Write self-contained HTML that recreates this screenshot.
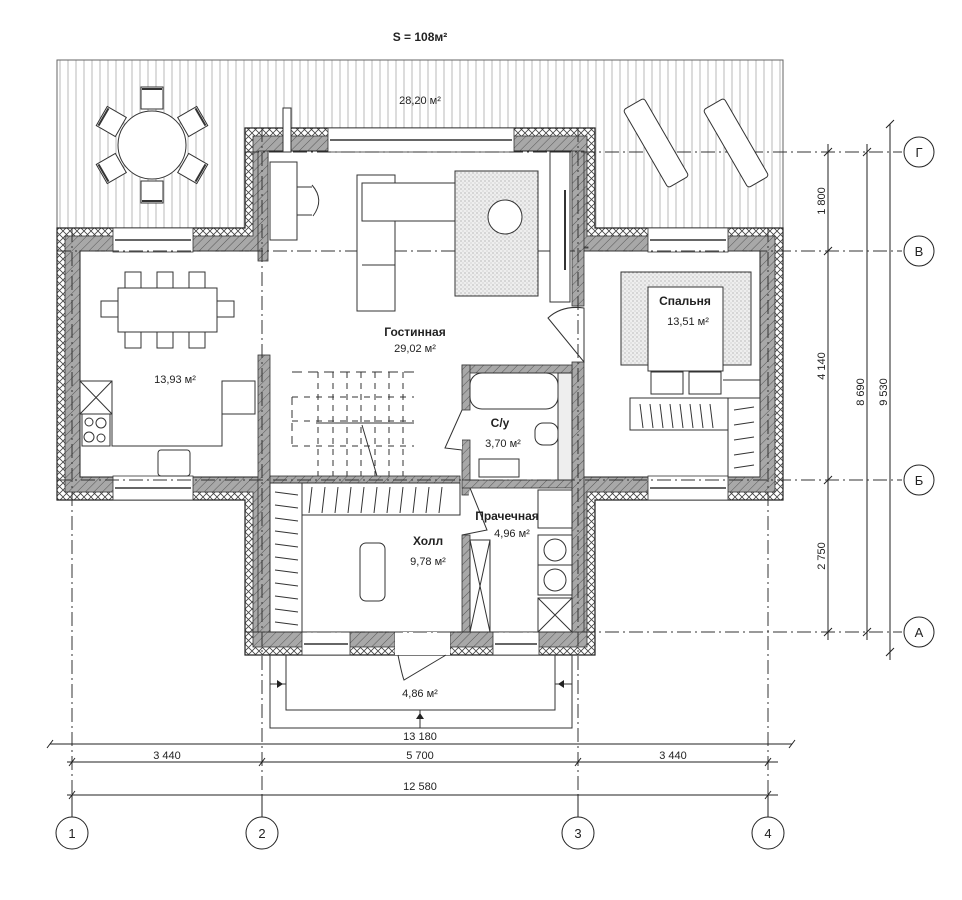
<!DOCTYPE html>
<html><head><meta charset="utf-8"><style>
html,body{margin:0;padding:0;background:#fff}
svg{display:block}
text{font-family:"Liberation Sans",sans-serif;fill:#222}
</style></head><body>
<svg width="962" height="900" viewBox="0 0 962 900" xmlns="http://www.w3.org/2000/svg">
<defs>
<pattern id="stripe" width="8" height="10" patternUnits="userSpaceOnUse"><rect width="8" height="10" fill="#fff"/><line x1="4" y1="0" x2="4" y2="10" stroke="#b8b8b8" stroke-width="1"/></pattern>
<pattern id="hatch" width="6" height="6" patternUnits="userSpaceOnUse" patternTransform="rotate(45)"><rect width="6" height="6" fill="#a8a8a8"/><line x1="0" y1="0" x2="0" y2="6" stroke="#555" stroke-width="1"/></pattern>
<pattern id="cross" width="7" height="7" patternUnits="userSpaceOnUse"><rect width="7" height="7" fill="#fff"/><path d="M0 0L7 7M7 0L0 7" stroke="#444" stroke-width="0.8"/></pattern>
<pattern id="dots" width="4" height="4" patternUnits="userSpaceOnUse"><rect width="4" height="4" fill="#eee"/><circle cx="1" cy="1" r="0.6" fill="#999"/><circle cx="3" cy="3" r="0.5" fill="#aaa"/></pattern>
</defs>

<text x="420" y="41" font-size="12" font-weight="bold" text-anchor="middle">S = 108м²</text>

<!-- terrace -->
<rect x="57" y="60" width="726" height="168" fill="url(#stripe)" stroke="#666" stroke-width="1"/>
<text x="420" y="104" font-size="11" text-anchor="middle">28,20 м²</text>

<!-- outer wall: insulation layer -->
<path d="M245 128H595V228H783V500H595V655H245V500H57V228H245Z" fill="url(#cross)" stroke="#222" stroke-width="1.2"/>
<!-- gray masonry -->
<path d="M253 136H587V236H775V492H587V647H253V492H65V236H253Z" fill="url(#hatch)" stroke="#333" stroke-width="0.8"/>
<!-- interior -->
<path d="M268 151H572V251H760V477H572V632H268V477H80V251H268Z" fill="#fff" stroke="#222" stroke-width="1"/>

<!-- windows (white gaps) -->
<g fill="#fff" stroke="#333" stroke-width="0.8">
<rect x="328" y="128" width="186" height="24"/>
<rect x="113" y="228" width="80" height="24"/>
<rect x="648" y="228" width="80" height="24"/>
<rect x="113" y="476" width="80" height="24"/>
<rect x="648" y="476" width="80" height="24"/>
<rect x="302" y="632" width="48" height="23"/>
<rect x="395" y="632" width="55" height="23"/>
<rect x="493" y="632" width="46" height="23"/>
</g>
<g stroke="#333" stroke-width="1.5">
<line x1="330" y1="140" x2="512" y2="140"/><line x1="115" y1="240" x2="191" y2="240"/><line x1="650" y1="240" x2="726" y2="240"/>
<line x1="115" y1="488" x2="191" y2="488"/><line x1="650" y1="488" x2="726" y2="488"/><line x1="304" y1="644" x2="348" y2="644"/><line x1="495" y1="644" x2="537" y2="644"/>
</g>
<rect x="395" y="632" width="55" height="23" fill="#fff" stroke="none"/>
<path d="M398 655Q402 675 404 680L446 655" fill="none" stroke="#333" stroke-width="1"/>

<!-- chimney -->
<rect x="283" y="108" width="8" height="44" fill="#fff" stroke="#333"/>

<!-- interior partitions -->
<g fill="url(#hatch)" stroke="#333" stroke-width="0.8">
<rect x="258" y="151" width="10" height="110"/>
<rect x="258" y="355" width="12" height="277"/>
<rect x="572" y="151" width="12" height="155"/>
<rect x="572" y="362" width="12" height="270"/>
<rect x="584" y="247" width="4" height="1"/>
<rect x="462" y="365" width="110" height="8"/>
<rect x="462" y="365" width="8" height="45"/>
<rect x="462" y="440" width="8" height="55"/>
<rect x="462" y="480" width="110" height="8"/>
<rect x="462" y="535" width="8" height="97"/>
<rect x="270" y="476" width="190" height="7"/>
</g>

<!-- dash-dot axes -->
<g stroke="#333" stroke-width="1" stroke-dasharray="14,4,2,4" fill="none">
<line x1="72" y1="228" x2="72" y2="815"/>
<line x1="262" y1="128" x2="262" y2="815"/>
<line x1="578" y1="128" x2="578" y2="815"/>
<line x1="768" y1="228" x2="768" y2="815"/>
<line x1="245" y1="152" x2="902" y2="152"/>
<line x1="57" y1="251" x2="902" y2="251"/>
<line x1="57" y1="480" x2="902" y2="480"/>
<line x1="245" y1="632" x2="902" y2="632"/>
</g>

<!-- round table & chairs -->
<g fill="#fff" stroke="#333" stroke-width="1">
<g transform="translate(152,145)">
<g id="ch"><rect x="-11" y="-58" width="22" height="22"/><line x1="-10" y1="-56" x2="10" y2="-56" stroke-width="2"/></g>
<use href="#ch" transform="rotate(60)"/><use href="#ch" transform="rotate(120)"/><use href="#ch" transform="rotate(180)"/><use href="#ch" transform="rotate(240)"/><use href="#ch" transform="rotate(300)"/>
<circle r="34"/>
</g>
<!-- loungers -->
<rect x="644" y="98" width="24" height="90" rx="3" transform="rotate(-30 656 143)"/>
<rect x="724" y="98" width="24" height="90" rx="3" transform="rotate(-30 736 143)"/>

<!-- dining -->
<rect x="125" y="272" width="16" height="18"/><rect x="157" y="272" width="16" height="18"/><rect x="189" y="272" width="16" height="18"/>
<rect x="125" y="330" width="16" height="18"/><rect x="157" y="330" width="16" height="18"/><rect x="189" y="330" width="16" height="18"/>
<rect x="101" y="301" width="18" height="16"/><rect x="216" y="301" width="18" height="16"/>
<rect x="118" y="288" width="99" height="44"/>
<!-- kitchen -->
<path d="M80 381H112V446H222V381H255" fill="none"/>
<rect x="80" y="381" width="32" height="33"/><path d="M80 381L112 414M112 381L80 414"/>
<rect x="82" y="414" width="28" height="32"/>
<circle cx="89" cy="422" r="4"/><circle cx="101" cy="423" r="5"/><circle cx="89" cy="437" r="5"/><circle cx="101" cy="438" r="4"/>
<rect x="222" y="381" width="33" height="33"/>
<rect x="158" y="450" width="32" height="26" rx="3"/>

<!-- desk -->
<rect x="270" y="162" width="27" height="78"/>
<path d="M297 187H312M297 215H312M312 185Q325 200 313 216"/>
<!-- sofa -->
<rect x="357" y="175" width="38" height="136"/>
<rect x="362" y="183" width="93" height="38"/>
<line x1="362" y1="221" x2="395" y2="221"/><line x1="362" y1="265" x2="395" y2="265"/>
<!-- rug -->
<rect x="455" y="171" width="83" height="125" fill="url(#dots)"/>
<circle cx="505" cy="217" r="17"/>
<rect x="550" y="152" width="20" height="150"/>
<line x1="565" y1="190" x2="565" y2="270" stroke-width="2"/>

<!-- stairs -->
<g stroke="#333" fill="none">
<path d="M292 372H414" stroke-dasharray="10,6"/>
<path d="M292 397H414M292 421H414M292 446H414" stroke-dasharray="6,6"/>
<path d="M292 397V446" stroke-dasharray="8,5"/>
<line x1="316" y1="423" x2="414" y2="423"/>
<path d="M318 372V476M333 372V476M347 372V476M361 372V476M375 372V476M389 372V476M403 372V476" stroke-dasharray="6,5"/>
<line x1="362" y1="425" x2="377" y2="476"/>
</g>
<!-- door swing living -->
<path d="M548 318Q562 305 584 308L584 362Z" fill="none"/>

<!-- bath -->
<rect x="470" y="373" width="88" height="36" rx="12"/>
<rect x="558" y="373" width="14" height="107" fill="#eee"/>
<rect x="535" y="423" width="23" height="22" rx="8"/>
<rect x="479" y="459" width="40" height="18"/>
<path d="M462 410L445 448L462 450"/>
<!-- laundry -->
<rect x="538" y="490" width="34" height="38"/>
<rect x="538" y="535" width="34" height="30"/><circle cx="555" cy="550" r="11"/>
<rect x="538" y="565" width="34" height="30"/><circle cx="555" cy="580" r="11"/>
<rect x="538" y="598" width="34" height="34"/><path d="M538 598L572 632M572 598L538 632"/>
<rect x="470" y="540" width="20" height="92"/><path d="M470 540L490 632M490 540L470 632"/>
<path d="M470 488L487 530L462 535"/>

<!-- bedroom -->
<rect x="621" y="272" width="130" height="93" fill="url(#dots)"/>
<rect x="648" y="287" width="75" height="84"/>
<rect x="651" y="372" width="32" height="22"/><rect x="689" y="372" width="32" height="22"/>
<rect x="630" y="398" width="98" height="32"/>
<rect x="728" y="398" width="32" height="79"/>
<line x1="723" y1="380" x2="760" y2="380"/>

<!-- hall -->
<rect x="270" y="483" width="32" height="149"/>
<rect x="302" y="483" width="158" height="32"/>
<rect x="360" y="543" width="25" height="58" rx="6"/>
</g>
<!-- wardrobe hatching -->
<g stroke="#333" stroke-width="1">
<path d="M640 404l3 24M650 404l3 24M660 404l3 24M670 404l3 24M680 404l3 24M690 404l3 24M700 404l3 24M710 404l3 24"/>
<path d="M734 410l20 -3M734 425l20 -3M734 440l20 -3M734 455l20 -3M734 468l20 -3"/>
<path d="M275 492l23 3M275 505l23 3M275 518l23 3M275 531l23 3M275 544l23 3M275 557l23 3M275 570l23 3M275 583l23 3M275 596l23 3M275 609l23 3M275 622l23 3"/>
<path d="M312 487l-3 26M325 487l-3 26M338 487l-3 26M351 487l-3 26M364 487l-3 26M377 487l-3 26M390 487l-3 26M403 487l-3 26M416 487l-3 26M429 487l-3 26M442 487l-3 26"/>
</g>

<!-- porch -->
<g fill="none" stroke="#333" stroke-width="1">
<path d="M270 655V728H572V655"/>
<path d="M286 655V710H555V655"/>
<path d="M270 684H286M555 684H572M420 710V728"/>
</g>
<path d="M283 684l-6-4v8z M558 684l6-4v8z M420 713l-4 6h8z" fill="#222"/>

<!-- room labels -->
<g font-size="11" text-anchor="middle">
<text x="415" y="336" font-weight="bold" font-size="12">Гостинная</text>
<text x="415" y="352">29,02 м²</text>
<text x="685" y="305" font-weight="bold" font-size="12">Спальня</text>
<text x="688" y="325">13,51 м²</text>
<text x="175" y="383">13,93 м²</text>
<text x="500" y="427" font-weight="bold" font-size="12">С/у</text>
<text x="503" y="447">3,70 м²</text>
<text x="507" y="520" font-weight="bold" font-size="12">Прачечная</text>
<text x="512" y="537">4,96 м²</text>
<text x="428" y="545" font-weight="bold" font-size="12">Холл</text>
<text x="428" y="565">9,78 м²</text>
<text x="420" y="697">4,86 м²</text>
</g>

<!-- dimensions bottom -->
<g stroke="#222" stroke-width="1">
<line x1="50" y1="744" x2="792" y2="744"/>
<line x1="67" y1="762" x2="778" y2="762"/>
<line x1="67" y1="795" x2="778" y2="795"/>
<path d="M47 748l6-8M789 748l6-8M69 766l6-8M259 766l6-8M575 766l6-8M765 766l6-8M69 799l6-8M765 799l6-8"/>
<line x1="72" y1="795" x2="72" y2="817"/><line x1="262" y1="795" x2="262" y2="817"/><line x1="578" y1="795" x2="578" y2="817"/><line x1="768" y1="795" x2="768" y2="817"/>
</g>
<g font-size="11" text-anchor="middle">
<text x="420" y="740">13 180</text>
<text x="167" y="759">3 440</text>
<text x="420" y="759">5 700</text>
<text x="673" y="759">3 440</text>
<text x="420" y="790">12 580</text>
</g>
<g fill="#fff" stroke="#222" stroke-width="1">
<circle cx="72" cy="833" r="16"/><circle cx="262" cy="833" r="16"/><circle cx="578" cy="833" r="16"/><circle cx="768" cy="833" r="16"/>
<circle cx="919" cy="152" r="15"/><circle cx="919" cy="251" r="15"/><circle cx="919" cy="480" r="15"/><circle cx="919" cy="632" r="15"/>
</g>
<g font-size="13" text-anchor="middle">
<text x="72" y="838">1</text><text x="262" y="838">2</text><text x="578" y="838">3</text><text x="768" y="838">4</text>
<text x="919" y="157">Г</text><text x="919" y="256">В</text><text x="919" y="485">Б</text><text x="919" y="637">А</text>
</g>

<!-- dimensions right -->
<g stroke="#222" stroke-width="1">
<line x1="828" y1="144" x2="828" y2="640"/>
<line x1="867" y1="144" x2="867" y2="640"/>
<line x1="890" y1="124" x2="890" y2="660"/>
<path d="M824 156l8-8M824 255l8-8M824 484l8-8M824 636l8-8M863 156l8-8M863 636l8-8M886 128l8-8M886 656l8-8"/>
</g>
<g font-size="11" text-anchor="middle">
<text transform="translate(825,201) rotate(-90)">1 800</text>
<text transform="translate(825,366) rotate(-90)">4 140</text>
<text transform="translate(825,556) rotate(-90)">2 750</text>
<text transform="translate(864,392) rotate(-90)">8 690</text>
<text transform="translate(887,392) rotate(-90)">9 530</text>
</g>
</svg>
</body></html>
